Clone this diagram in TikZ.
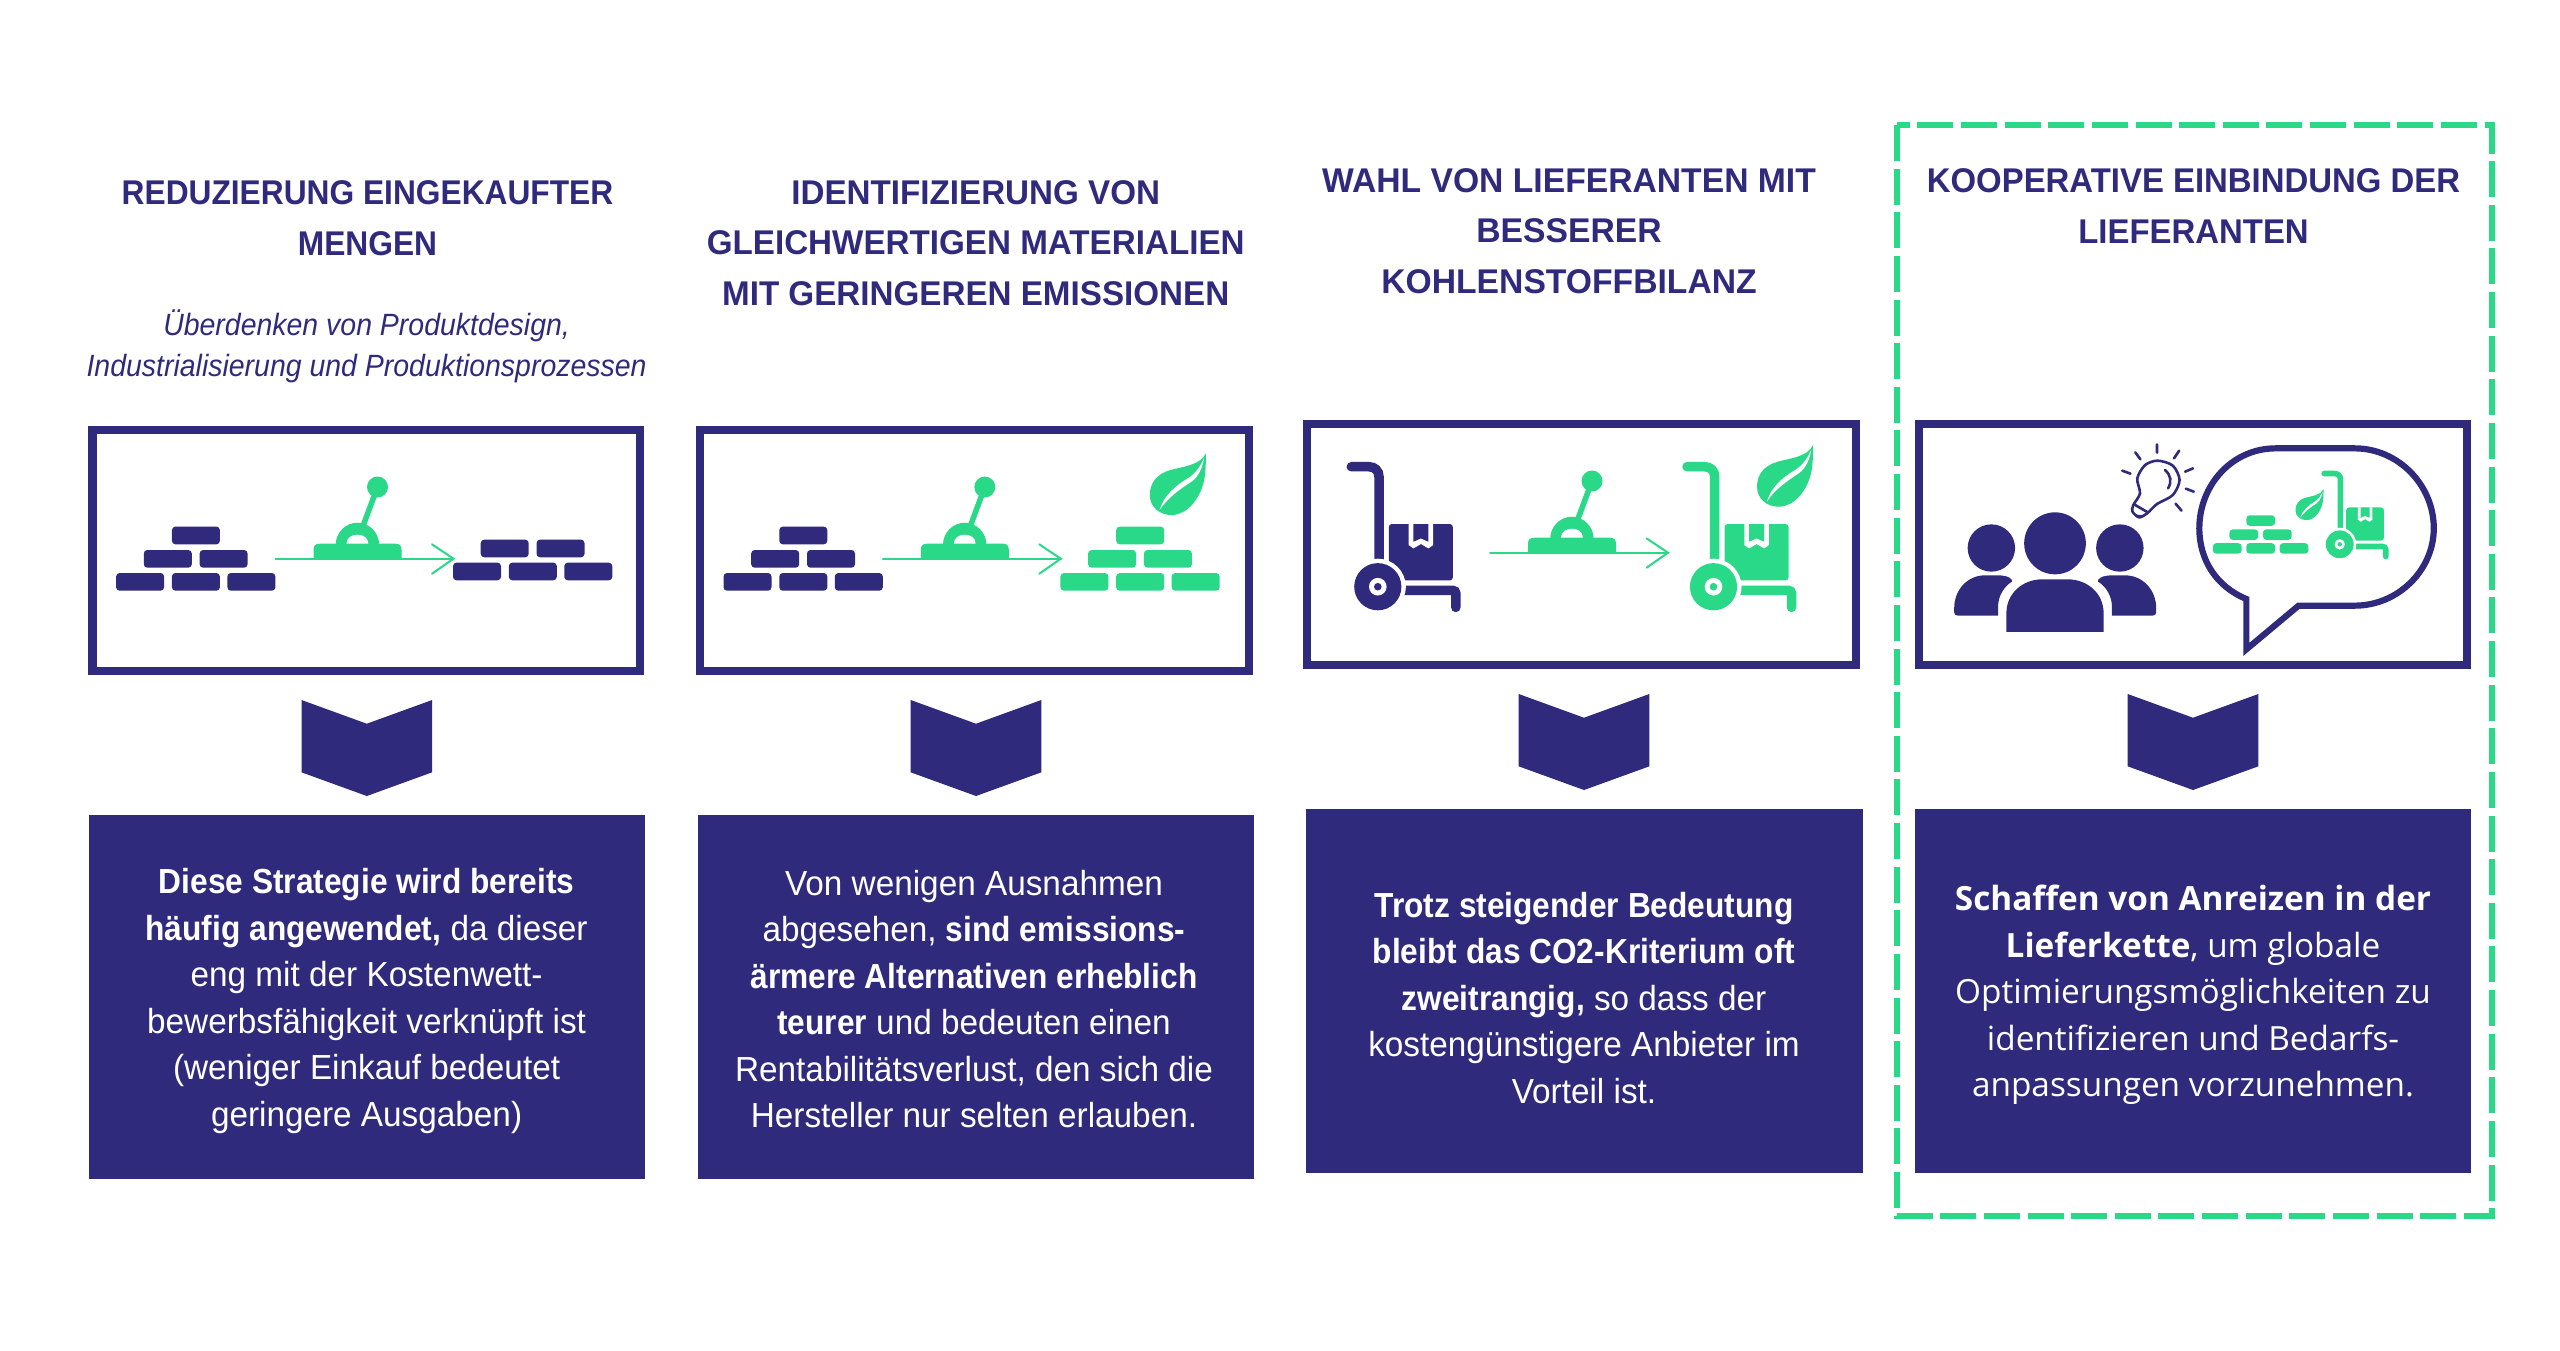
\documentclass[tikz,border=0pt]{standalone}
\usepackage{fontspec}
\setmainfont{Open Sans}
\newfontfamily\headfontA[FakeStretch=0.925]{Liberation Sans}
\newfontfamily\headfontB[FakeStretch=0.968]{Liberation Sans}
\newfontfamily\headfontC[FakeStretch=0.982]{Liberation Sans}
\newfontfamily\headfontD[FakeStretch=0.96]{Liberation Sans}
\newfontfamily\bodysans[FakeStretch=0.957]{Liberation Sans}
\newfontfamily\bodyheavy[FakeStretch=0.91]{Liberation Sans}
\newcommand\bb[1]{{\bodyheavy\bfseries #1}}
\definecolor{navy}{RGB}{48,42,125}
\definecolor{mint}{RGB}{42,217,136}
\tikzset{
  iconframe/.style={draw=navy,line width=0.08cm,fill=white},
  darkbox/.style={fill=navy},
  headtext/.style={text=navy,align=center,anchor=base,inner sep=0pt,font=#1\bfseries\fontsize{9.75pt}{14.225pt}\selectfont},
  subtext/.style={text=navy,align=center,anchor=base,inner sep=0pt,font=\headfontA\itshape\fontsize{8.75pt}{11.86pt}\selectfont},
  bodytext/.style={text=white,align=center,anchor=center,inner sep=0pt,font=\bodysans\fontsize{9.9pt}{13.23pt}\selectfont},
  bodyopen/.style={text=white,align=center,anchor=center,inner sep=0pt,font=\fontsize{9.48pt}{13.23pt}\selectfont},
}
\newcommand\onebrick[3]{\fill[#3,rounded corners=0.035cm] (#1,#2) rectangle ++(48,-17.7);}
\newcommand\wallrows[4]{\begin{scope}[shift={(#1,#2)},scale=#4]
 \onebrick{0}{0}{#3}\onebrick{55.8}{0}{#3}\onebrick{111.3}{0}{#3}
 \onebrick{27.7}{-23}{#3}\onebrick{83.5}{-23}{#3}
\end{scope}}
\newcommand\pyramid[4]{\wallrows{#1}{#2}{#3}{#4}\begin{scope}[shift={(#1,#2)},scale=#4]\onebrick{55.8}{-46.4}{#3}\end{scope}}
\newcommand\leverarrow[2]{\begin{scope}[shift={(#1,#2)}]
 \draw[mint,line width=0.02cm,line cap=round] (0,0) -- (178,0);
 \draw[mint,line width=0.02cm,line cap=round,line join=miter] (156.5,-14.4) -- (178,0) -- (156.5,15);
 \fill[mint] (38,1.2) -- (38,-9) .. controls (38,-13) and (40,-15) .. (44,-15) -- (120,-15) .. controls (124,-15) and (126,-13) .. (126,-9) -- (126,1.2) -- cycle;
 \draw[mint,line width=0.055cm] (88,-34) -- (102,-71.7);
 \fill[mint] (60.2,-14) .. controls (60.2,-26) and (70,-36) .. (81.9,-36) .. controls (93.8,-36) and (103.6,-26) .. (103.6,-14) -- cycle;
 \fill[white] (71,-15) .. controls (71,-21) and (76,-24) .. (81.9,-24) .. controls (87.8,-24) and (92.8,-21) .. (92.8,-15) -- cycle;
 \fill[mint] (102,-71.7) circle (10.5);
\end{scope}}
\newcommand\leafshape[3]{\begin{scope}[shift={(#1,#2)},scale=#3]
 \fill[mint] (0,0) .. controls (-6,12) and (-22,13) .. (-35.6,16.7) .. controls (-50,21) and (-56,30) .. (-56.1,41.7) .. controls (-56,54) and (-46,62) .. (-33.6,61.7) .. controls (-18,61) and (-6,45) .. (-2,28) .. controls (0,18) and (0,8) .. (0,0) -- cycle;
 \fill[white] (-46.3,56.7) .. controls (-42,42) and (-30,32) .. (-18,25) .. controls (-10,20) and (-5,12) .. (-2,5) .. controls (-3,14) and (-8,24) .. (-14,28) .. controls (-26,36) and (-38,44) .. (-46.3,56.7) -- cycle;
\end{scope}}
\newcommand\trolley[4]{\begin{scope}[shift={(#1,#2)},scale=#4]
 \draw[#3,line width={#4*0.095cm},line cap=round] (-26.5,-120) -- (-9,-120) .. controls (-3,-120) and (1.2,-116) .. (1.2,-110) -- (1.2,-25);
 \draw[#3,line width={#4*0.095cm},line cap=round,rounded corners=0.03cm] (20,3.7) -- (78,3.7) -- (78,20.7);
 \fill[#3,rounded corners=0.03cm] (11,-62.7) rectangle (75,-6.3);
 \fill[white] (30.8,-62.7) -- (30.8,-41.7) -- (35.6,-38.3) -- (43.1,-42.7) -- (50.6,-38.3) -- (55.4,-41.7) -- (55.4,-62.7) -- cycle;
 \fill[#3] (35.6,-62.7) -- (35.6,-45) -- (43.1,-48.3) -- (50.6,-45) -- (50.6,-62.7) -- cycle;
 \fill[white] (0,0) circle (28);
 \fill[#3] (0,0) circle (23.6);
 \fill[white] (0,0) circle (8.8);
 \fill[#3] (0,0) circle (3.8);
\end{scope}}
\newcommand\chevron[2]{\fill[navy] (#1-65.3,#2) -- (#1,#2+23.7) -- (#1+65.3,#2) -- (#1+65.3,#2+72.3) -- (#1,#2+96) -- (#1-65.3,#2+72.3) -- cycle;}
\begin{document}
\begin{tikzpicture}[x=0.01cm,y=-0.01cm]
\useasboundingbox (0,0) rectangle (2560,1350);
\fill[white] (0,0) rectangle (2560,1350);
% dashed highlight
\draw[mint,line width=0.065cm,dash pattern=on 0.36cm off 0.076cm] (1897,125) rectangle (2492,1216);
% headings
\node[headtext=\headfontA] (h1) at (367.5,255) {REDUZIERUNG EINGEKAUFTER\\MENGEN};
\node[subtext] (s1) at (366.6,376.7) {Überdenken von Produktdesign,\\Industrialisierung und Produktionsprozessen};
\node[headtext=\headfontB] (h2) at (975.7,305) {IDENTIFIZIERUNG VON\\GLEICHWERTIGEN MATERIALIEN\\MIT GERINGEREN EMISSIONEN};
\node[headtext=\headfontC] (h3) at (1569,293) {WAHL VON LIEFERANTEN MIT\\BESSERER\\KOHLENSTOFFBILANZ};
\node[headtext=\headfontD] (h4) at (2193.5,243) {KOOPERATIVE EINBINDUNG DER\\LIEFERANTEN};
% frames
\draw[iconframe] (92.5,430) rectangle (640.4,671.3);
\draw[iconframe] (699.8,430) rectangle (1248.6,671.3);
\draw[iconframe] (1307,424) rectangle (1856,665.3);
\draw[iconframe] (1919,424) rectangle (2467.4,665.3);
% chevrons
\chevron{366.8}{700}
\chevron{976}{700}
\chevron{1584}{694}
\chevron{2193}{694}
% dark boxes
\fill[darkbox] (88.5,815) rectangle (645,1179);
\fill[darkbox] (697.8,815) rectangle (1253.7,1179);
\fill[darkbox] (1305.8,808.7) rectangle (1862.6,1172.5);
\fill[darkbox] (1915,808.7) rectangle (2471.4,1172.5);
% body text
\node[bodytext] (b1) at (366.6,1001) {\bb{Diese Strategie wird bereits}\\\bb{häufig angewendet,} da dieser\\eng mit der Kostenwett-\\bewerbsfähigkeit verknüpft ist\\(weniger Einkauf bedeutet\\geringere Ausgaben)};
\node[bodytext] (b2) at (974,999) {Von wenigen Ausnahmen\\abgesehen, \bb{sind emissions-}\\\bb{ärmere Alternativen erheblich}\\\bb{teurer} und bedeuten einen\\Rentabilitätsverlust, den sich die\\Hersteller nur selten erlauben.};
\node[bodytext] (b3) at (1584,998) {\bb{Trotz steigender Bedeutung}\\\bb{bleibt das CO2-Kriterium oft}\\\bb{zweitrangig,} so dass der\\kostengünstigere Anbieter im\\Vorteil ist.};
\node[bodyopen] (b4) at (2193,995) {\textbf{Schaffen von Anreizen in der}\\\textbf{Lieferkette}, um globale\\Optimierungsmöglichkeiten zu\\identifizieren und Bedarfs-\\anpassungen vorzunehmen.};
% column 1 icon
\pyramid{116.1}{590.7}{navy}{1}
\leverarrow{275.5}{558.7}
\wallrows{453}{580.3}{navy}{1}
% column 2 icon
\pyramid{723.5}{590.7}{navy}{1}
\leverarrow{882.8}{558.7}
\pyramid{1060.4}{590.7}{mint}{1}
\leafshape{1205.9}{453.3}{1}
% column 3 icon
\trolley{1377.8}{586.7}{navy}{1}
\leverarrow{1490}{552.7}
\trolley{1713.5}{586.7}{mint}{1}
\leafshape{1813.1}{445}{1}
% column 4 icon
\begin{scope}[shift={(1900,400)},xscale=0.3954,yscale=0.3333]
 % people
 \fill[navy] (392,430) ellipse [x radius=78,y radius=93];
 \fill[navy] (231,444) ellipse [x radius=60,y radius=71];
 \fill[navy] (556,444) ellipse [x radius=60,y radius=71];
 \fill[navy] (269,696) -- (269,640) .. controls (269,580) and (310,538) .. (360,538) -- (424,538) .. controls (474,538) and (515,580) .. (515,640) -- (515,696) -- cycle;
 \fill[navy] (283,540) .. controls (278,530) and (265,526) .. (245,526) -- (215,526) .. controls (170,526) and (137,570) .. (137,625) -- (137,637) .. controls (137,644) and (141,647) .. (147,647) -- (248,647) -- (248,620) .. controls (248,590) and (262,560) .. (283,545) -- cycle;
 \fill[navy] (501,540) .. controls (506,530) and (519,526) .. (539,526) -- (569,526) .. controls (614,526) and (648,570) .. (648,625) -- (648,637) .. controls (648,644) and (644,647) .. (638,647) -- (536,647) -- (536,620) .. controls (536,590) and (522,560) .. (501,545) -- cycle;
 % lamp
 \draw[navy,line width=0.026cm,line join=round] plot[smooth cycle] coordinates {(652,182) (690,197) (707,240) (690,285) (650,312) (625,340) (605,352) (588,335) (590,315) (607,280) (600,235) (620,195)};
 \draw[navy,line width=0.026cm] (592,313) -- (628,338);
 \fill[navy] (590,338) .. controls (597,345) and (610,350) .. (625,340) -- (605,352) -- cycle;
 \draw[navy,line width=0.026cm,line cap=round] (670,210) .. controls (685,225) and (688,245) .. (678,265);
 \draw[navy,line width=0.026cm,line cap=round] (650,133) -- (650,158) (706,152) -- (693,175) (741,205) -- (721,215) (743,275) -- (723,266) (712,332) -- (697,311) (562,212) -- (583,221) (595,157) -- (608,178);
 % speech bubble
 \draw[navy,line width=0.062cm,fill=white,line join=miter] (950,145) -- (1150,145) .. controls (1260,145) and (1350,255) .. (1350,385) .. controls (1350,510) and (1260,617) .. (1150,617) -- (1008,617) -- (876,748) -- (876,597) .. controls (800,560) and (757,480) .. (757,385) .. controls (757,255) and (840,145) .. (950,145) -- cycle;
\end{scope}
\pyramid{2212.8}{553.7}{mint}{0.6}
\leafshape{2323.5}{489.3}{0.5}
\trolley{2339.7}{544.3}{mint}{0.59}
\end{tikzpicture}
\end{document}
